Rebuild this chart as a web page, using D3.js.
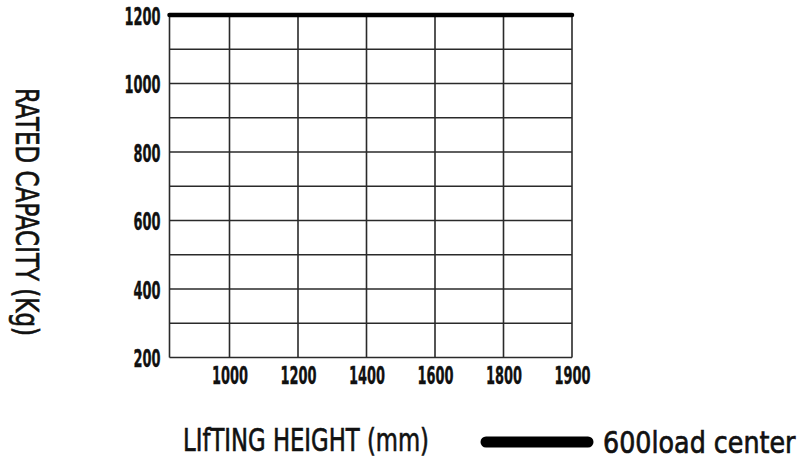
<!DOCTYPE html>
<html><head><meta charset="utf-8">
<script src="https://cdn.jsdelivr.net/npm/d3@7"></script>
<style>body{margin:0;background:#fff}svg{display:block}</style>
</head><body>
<svg id="c" width="803" height="463"></svg>
<script>
const liftingHeights = [1000, 1200, 1400, 1600, 1800, 1900];
const ratedCapacity = [1200, 1200, 1200, 1200, 1200, 1200];
const yTicks = [200, 400, 600, 800, 1000, 1200];
const yGrid = [200, 300, 400, 500, 600, 700, 800, 900, 1000, 1100, 1200];
const seriesName = "600load center";
const xTitle = "LIfTING HEIGHT (mm)";
const yTitle = "RATED CAPACITY (Kg)";

const svg = d3.select("#c");
const FONT = "'DejaVu Sans','Liberation Sans',sans-serif";
const left = 169.5, right = 572;
const x = d3.scalePoint().domain(liftingHeights).range([229.5, right]);
const y = d3.scaleLinear().domain([200, 1200]).range([357.5, 15]);
const gridColor = "#2a2a2a";

// horizontal grid
svg.append("g").selectAll("line").data(yGrid).join("line")
  .attr("x1", left).attr("x2", right)
  .attr("y1", d => y(d)).attr("y2", d => y(d))
  .attr("stroke", gridColor).attr("stroke-width", 1.6);
// vertical grid
svg.append("g").selectAll("line").data(liftingHeights).join("line")
  .attr("x1", d => x(d)).attr("x2", d => x(d))
  .attr("y1", y(200)).attr("y2", y(1200))
  .attr("stroke", gridColor).attr("stroke-width", 1.6);
// left frame
svg.append("line").attr("x1", left).attr("x2", left).attr("y1", y(200)).attr("y2", y(1200))
  .attr("stroke", gridColor).attr("stroke-width", 1.6);

// y axis labels
const yAxis = d3.axisLeft(y).tickValues(yTicks).tickSize(0).tickPadding(0).tickFormat(d3.format("d"));
const gy = svg.append("g").attr("transform", `translate(${left - 9},0)`).call(yAxis);
gy.select(".domain").remove();
gy.selectAll("text").attr("font-family", FONT).attr("font-weight", "bold")
  .attr("font-size", 25).attr("fill", "#111").attr("stroke", "#111").attr("stroke-width", 0.4)
  .attr("dy", "0.36em")
  .attr("textLength", d => String(d).length * 9).attr("lengthAdjust", "spacingAndGlyphs");

// x axis labels
const xAxis = d3.axisBottom(x).tickSize(0).tickPadding(0);
const gx = svg.append("g").attr("transform", `translate(0,${y(200) + 26})`).call(xAxis);
gx.select(".domain").remove();
gx.selectAll("text").attr("font-family", FONT).attr("font-weight", "bold")
  .attr("font-size", 25).attr("fill", "#111").attr("stroke", "#111").attr("stroke-width", 0.4)
  .attr("dy", "0")
  .attr("textLength", d => String(d).length * 9).attr("lengthAdjust", "spacingAndGlyphs");

// series line
const pts = [[left, ratedCapacity[0]]].concat(liftingHeights.map((h, i) => [x(h), ratedCapacity[i]]));
svg.append("path").datum(pts)
  .attr("d", d3.line().x(d => d[0]).y(d => y(d[1])))
  .attr("fill", "none").attr("stroke", "#000").attr("stroke-width", 4.5).attr("stroke-linecap", "round");

// titles
svg.append("text").attr("x", 183).attr("y", 451).text(xTitle)
  .attr("font-family", FONT).attr("font-size", 32).attr("fill", "#111")
  .attr("stroke", "#111").attr("stroke-width", 0.7)
  .attr("textLength", 246).attr("lengthAdjust", "spacingAndGlyphs");
svg.append("text").attr("transform", "translate(16,88) rotate(90)").text(yTitle)
  .attr("font-family", FONT).attr("font-size", 32).attr("fill", "#111")
  .attr("stroke", "#111").attr("stroke-width", 0.7)
  .attr("textLength", 248).attr("lengthAdjust", "spacingAndGlyphs");

// legend
svg.append("line").attr("x1", 486).attr("x2", 588).attr("y1", 442).attr("y2", 442)
  .attr("stroke", "#000").attr("stroke-width", 11).attr("stroke-linecap", "round");
svg.append("text").attr("transform", "translate(603,453) scale(1,1.22)").text(seriesName)
  .attr("font-family", FONT).attr("font-size", 25.4).attr("fill", "#111")
  .attr("stroke", "#111").attr("stroke-width", 0.6);
</script>
</body></html>
